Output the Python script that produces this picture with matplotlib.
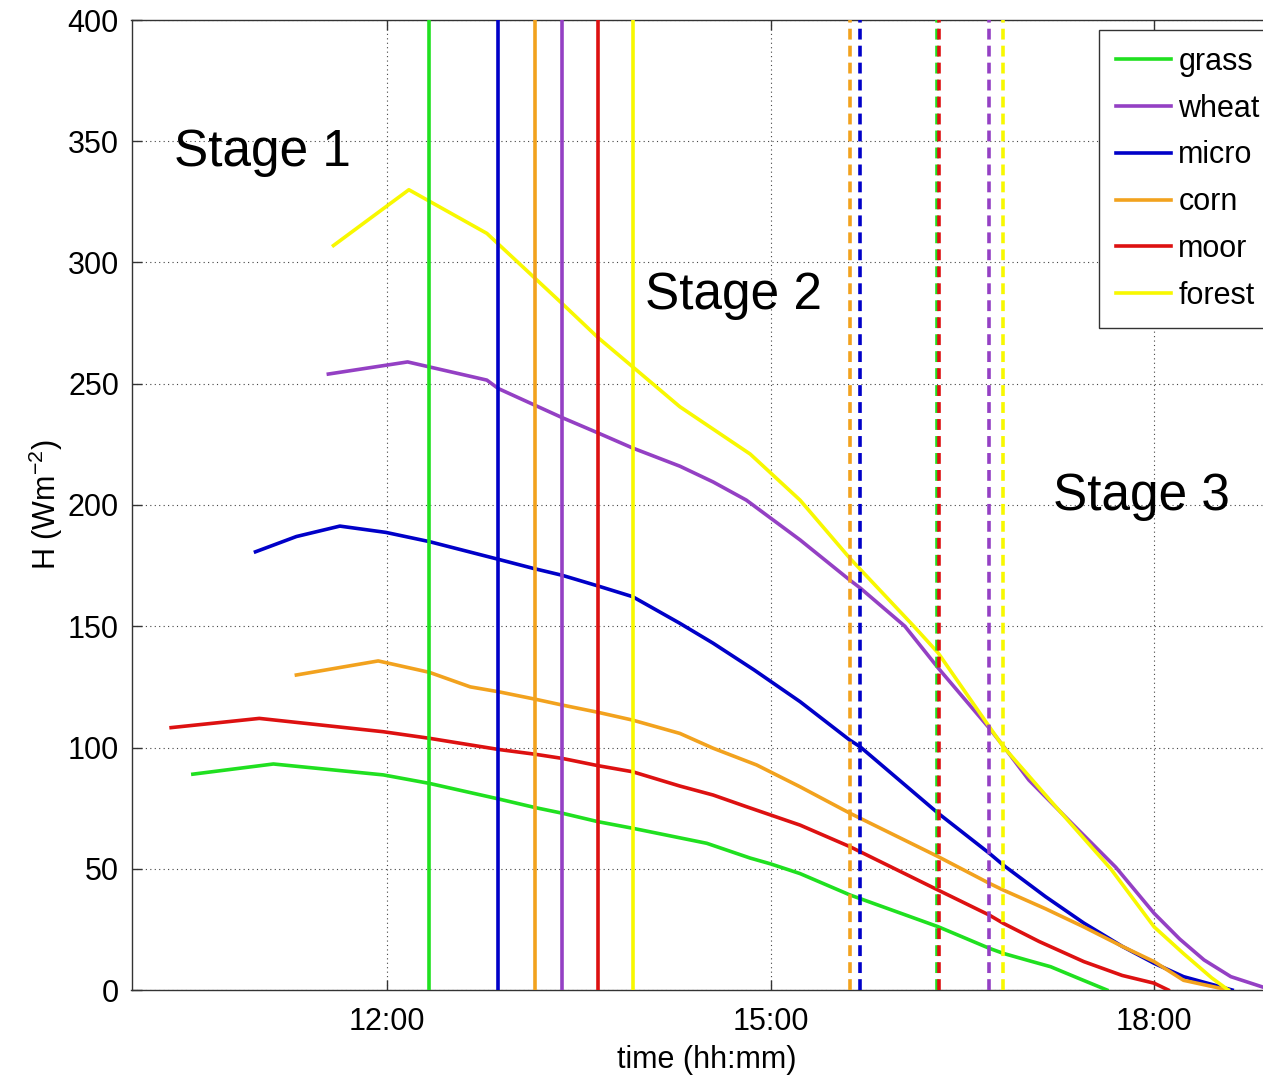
import matplotlib
matplotlib.use("Agg")
import matplotlib.pyplot as plt

plt.rcParams['font.family'] = ['Liberation Sans', 'DejaVu Sans']
plt.rcParams['mathtext.fontset'] = 'custom'
plt.rcParams['mathtext.rm'] = 'Liberation Sans'

# Sensible heat flux H (W m^-2) against time of day (decimal hours)
grass_t = [10.48, 11.11, 11.97, 12.33, 12.87, 13.16, 13.37, 13.65, 13.92, 14.5, 14.84, 15.0, 15.23,
           15.62, 16.31, 16.71, 16.82, 17.0, 17.19, 17.4, 17.63]
grass_v = [89, 93.2, 88.7, 85.2, 78.8, 75.2, 72.9, 69.4, 66.7, 60.5, 54.4, 52, 48,
           39.2, 26.1, 17.2, 15.1, 12.4, 9.6, 5.0, 0]

wheat_t = [11.54, 12.16, 12.78, 12.87, 13.37, 13.65, 13.92, 14.29, 14.55, 14.81, 15.23, 15.62,
           15.70, 16.05, 16.31, 16.71, 16.82, 17.02, 17.36, 17.70, 18.0, 18.2, 18.39, 18.6, 18.92]
wheat_v = [254, 259, 251.5, 248, 236, 229.7, 223.5, 216, 209.5, 202, 185.6, 169,
           165.8, 150, 132.8, 108, 100.6, 86.6, 68.5, 50.6, 31.6, 21, 12.4, 5.5, 0]

micro_t = [10.97, 11.29, 11.63, 11.99, 12.33, 12.87, 13.14, 13.37, 13.65, 13.92, 14.29, 14.55,
           14.87, 15.23, 15.62, 15.70, 16.31, 16.71, 16.82, 17.15, 17.45, 17.75, 18.0, 18.23, 18.61]
micro_v = [180.7, 187, 191.3, 188.7, 184.9, 177.6, 173.9, 171, 166.6, 162.2, 151.2, 143,
           132, 118.9, 103, 100.3, 72.9, 56.4, 51.5, 38.5, 27.6, 18, 11, 5.5, 0]

corn_t = [11.29, 11.93, 12.33, 12.65, 12.87, 13.16, 13.37, 13.65, 13.92, 14.29, 14.55, 14.89,
          15.23, 15.62, 16.31, 16.71, 16.82, 17.15, 17.45, 17.75, 18.0, 18.23, 18.58]
corn_v = [129.9, 135.7, 131, 125, 123, 119.9, 117.5, 114.5, 111.3, 105.8, 99.7, 92.8,
          83.8, 72.9, 55, 44, 41.2, 33.5, 26, 18, 11.7, 4, 0]

moor_t = [10.31, 11.0, 11.97, 12.33, 12.87, 13.16, 13.37, 13.65, 13.92, 14.29, 14.55, 14.81,
          15.23, 15.62, 16.31, 16.71, 16.82, 17.1, 17.45, 17.75, 18.0, 18.11]
moor_v = [108.2, 112, 106.5, 103.8, 99.2, 97.2, 95.5, 92.5, 90, 84.1, 80.4, 75.6,
          68, 59.1, 41.2, 30.9, 27.5, 20.0, 11.7, 6.0, 2.8, 0]

forest_t = [11.58, 12.17, 12.78, 13.37, 13.65, 13.92, 14.29, 14.84, 15.23, 15.62, 16.12, 16.31,
            16.71, 16.82, 17.19, 17.66, 18.0, 18.23, 18.45, 18.58]
forest_v = [307, 330, 312, 283, 269, 257, 240.5, 221, 202, 178, 150, 139,
            108.6, 100.3, 78, 50, 26, 15, 5, 0]

labels = ['grass', 'wheat', 'micro', 'corn', 'moor', 'forest']
colors = ['#20E020', '#9440C4', '#0000C8', '#F2A21E', '#DD1111', '#F8F800']

# end of stage 1 (solid) and end of stage 2 (dashed), per surface
stage1_end = [12.33, 13.37, 12.87, 13.16, 13.65, 13.92]
stage2_end = [16.30, 16.71, 15.70, 15.62, 16.32, 16.82]

xticks = [12, 15, 18]
xticklabels = ['12:00', '15:00', '18:00']
yticks = [0, 50, 100, 150, 200, 250, 300, 350, 400]

stage_text = ['Stage 1', 'Stage 2', 'Stage 3']
stage_pos = [(10.33, 339.8), (14.02, 280.8), (17.21, 198.0)]

W, H = 1263, 1078
fig = plt.figure(figsize=(W / 100, H / 100), dpi=100)
ax = fig.add_axes([131.5 / W, 1 - 990 / H, 1150.5 / W, 970 / H])

series_t = [grass_t, wheat_t, micro_t, corn_t, moor_t, forest_t]
series_v = [grass_v, wheat_v, micro_v, corn_v, moor_v, forest_v]

lw = 2.6
for t, v, c, lab in zip(series_t, series_v, colors, labels):
    ax.plot(t, v, color=c, lw=lw, label=lab, zorder=3)

for x, c in zip(stage1_end, colors):
    ax.axvline(x, color=c, lw=lw, zorder=4)
for x, c in zip(stage2_end, colors):
    ax.axvline(x, color=c, lw=lw, dashes=(3.0, 1.7), zorder=4)

for s, (x, y) in zip(stage_text, stage_pos):
    ax.text(x, y, s, fontsize=37, ha='left', va='baseline', color='black', zorder=5)

ax.set_xlim(10, 19)
ax.set_ylim(0, 400)
ax.set_xticks(xticks)
ax.set_xticklabels(xticklabels)
ax.set_yticks(yticks)
ax.tick_params(direction='in', length=7, width=1, labelsize=22, top=True, right=True,
               color='#333333')
ax.tick_params(axis='x', pad=12)
ax.tick_params(axis='y', pad=9)
ax.grid(True, color='#444444', linestyle=(0, (1, 3)), linewidth=0.8)
ax.set_axisbelow(True)
for sp in ax.spines.values():
    sp.set_color('#333333')
    sp.set_linewidth(1.0)

ax.set_xlabel('time (hh:mm)', fontsize=22, labelpad=6)
ax.set_ylabel('H (Wm$^{-2}$)', fontsize=22, labelpad=2)

leg = ax.legend(loc='upper left', bbox_to_anchor=(1099 / W, 1 - 318 / H, 200 / W, 288 / H),
                mode='expand', bbox_transform=fig.transFigure, borderaxespad=0, fontsize=22,
                handlelength=1.8, handletextpad=0.25, labelspacing=0.55,
                borderpad=0.55, fancybox=False, framealpha=1)
leg.get_frame().set_edgecolor('#333333')
leg.get_frame().set_linewidth(1.0)
leg.set_zorder(10)

fig.savefig('out.png', dpi=100)
